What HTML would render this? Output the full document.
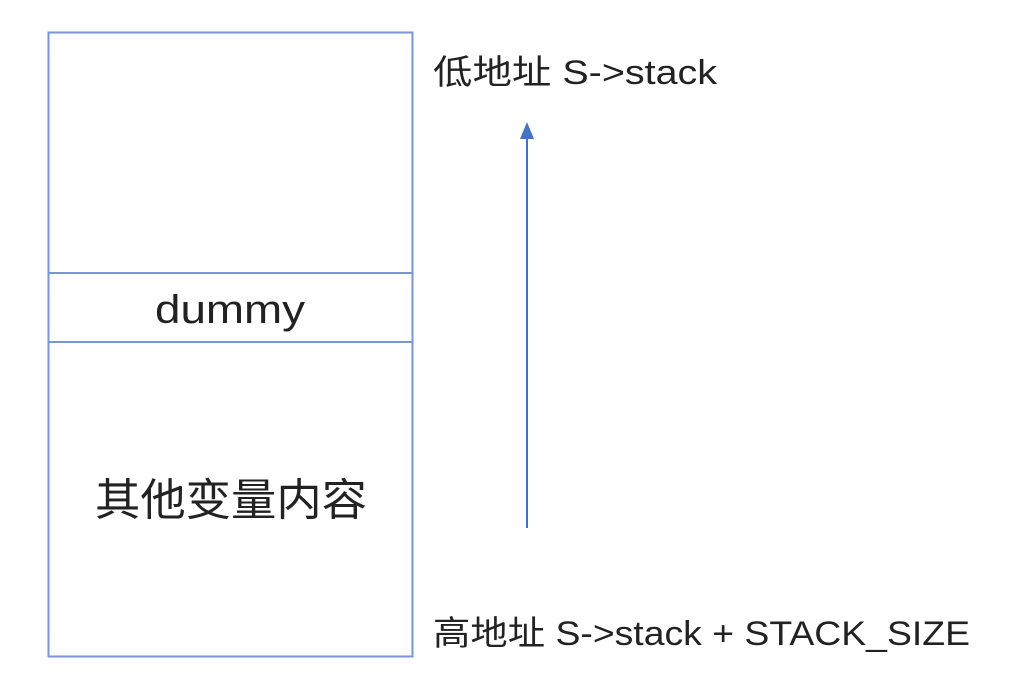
<!DOCTYPE html>
<html><head><meta charset="utf-8"><style>
html,body{margin:0;padding:0;background:#fff;}
svg{display:block;}
text{font-family:"Liberation Sans","Noto Sans CJK SC",sans-serif;fill:#222;}
</style></head><body>
<svg width="1018" height="690" viewBox="0 0 1018 690">
<rect x="48.5" y="32.5" width="364" height="624" fill="none" stroke="#7a96d4" stroke-width="2"/>
<line x1="48" y1="273" x2="413" y2="273" stroke="#7a96d4" stroke-width="2"/>
<line x1="48" y1="342" x2="413" y2="342" stroke="#7a96d4" stroke-width="2"/>
<text x="155" y="323" font-size="40" textLength="150" lengthAdjust="spacingAndGlyphs">dummy</text>
<text x="231" y="515" font-size="44" text-anchor="middle" textLength="272" lengthAdjust="spacingAndGlyphs">其他变量内容</text>
<line x1="527" y1="528" x2="527" y2="138" stroke="#4472c4" stroke-width="2"/>
<polygon points="527,122 520,139 534,139" fill="#4472c4"/>
<text x="433" y="84" font-size="34" textLength="284" lengthAdjust="spacingAndGlyphs">低地址 S-&gt;stack</text>
<text x="433" y="645" font-size="34" textLength="537" lengthAdjust="spacingAndGlyphs">高地址 S-&gt;stack + STACK_SIZE</text>
</svg>
</body></html>
